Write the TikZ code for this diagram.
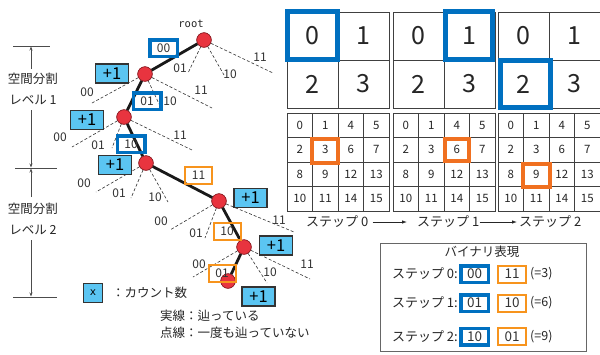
\documentclass[tikz,border=0pt]{standalone}
\usepackage{fontspec}
\setmainfont{Noto Sans CJK JP}
\newfontfamily\monof{DejaVu Sans Mono}
\usetikzlibrary{arrows.meta}
\definecolor{bblue}{RGB}{0,112,192}
\definecolor{torange}{RGB}{247,148,29}
\definecolor{gorange}{RGB}{240,112,32}
\definecolor{lblue}{RGB}{91,197,242}
\definecolor{nred}{RGB}{232,52,63}
\newcommand\myfs[1]{\fontsize{#1}{#1}\selectfont}
\tikzset{
  dot/.style={circle, fill=nred, draw=nred!60!black, line width=0.6pt, minimum size=14.5pt, inner sep=0pt},
  walked/.style={line width=2.8pt, black!90},
  unwalked/.style={dash pattern=on 3pt off 2pt, line width=0.6pt, black!80},
  lbl/.style={font=\myfs{12}, text=black!80, inner sep=0pt},
  bluebox/.style={draw=bblue, line width=3.5pt, minimum width=27.5pt, minimum height=16.5pt, inner sep=0pt, font=\myfs{12}, text=black!80},
  orbox/.style={draw=torange, line width=2pt, minimum width=27pt, minimum height=17pt, inner sep=0pt, font=\myfs{12}, text=black!80},
  cntbox/.style={draw=black!80, fill=lblue, line width=1.2pt, minimum width=33pt, minimum height=19pt, inner sep=0pt, font=\myfs{16.5}},
  bigcell/.style={draw=black!75, line width=0.8pt, minimum width=51pt, minimum height=48pt, inner sep=0pt, font=\myfs{25}, text=black!85},
  smallcell/.style={draw=black!75, line width=0.8pt, minimum width=25.5pt, minimum height=24.5pt, inner sep=0pt, font=\myfs{11.5}, text=black!85},
  hlblue/.style={draw=bblue, line width=5pt},
  hlorange/.style={draw=gorange, line width=4pt},
  jp/.style={font=\myfs{12.5}, text=black!85, inner sep=0pt},
  annline/.style={line width=0.8pt, black!70},
  annarrow/.style={line width=0.8pt, black!70, -{Stealth[length=4pt,width=3pt]}},
  steparrow/.style={line width=0.8pt, black!85, -{Latex[length=5pt,width=3.5pt]}},
}
\begin{document}
\begin{tikzpicture}[x=1pt,y=-1pt]
\useasboundingbox (0,0) rectangle (600,354);
\fill[white] (0,0) rectangle (600,354);

% ---------------- left annotation ----------------
\draw[annline] (13,46) -- (50,46);
\draw[annline] (15,168) -- (57,168);
\draw[annline] (13,297) -- (57,297);
\node[jp] (a1) at (33,79) {空間分割};
\node[jp] (b1) at (33,100) {レベル 1};
\node[jp] (a2) at (33,209) {空間分割};
\node[jp] (b2) at (33,230) {レベル 2};
\coordinate (t1) at (31,46.5);
\coordinate (u1) at (31,167.5);
\coordinate (t2) at (31,168.5);
\coordinate (u2) at (31,296.5);
\draw[annarrow] (31,69) -- (t1);
\draw[annarrow] (31,110) -- (u1);
\draw[annarrow] (31,197) -- (t2);
\draw[annarrow] (31,240) -- (u2);

% ---------------- tree ----------------
\node[font=\monof\myfs{10.5}, text=black!85, inner sep=0pt] (rootl) at (191,24) {root};
\node[dot] (r) at (204,40) {};
\node[dot] (n1) at (145,74) {};
\node[dot] (n2) at (124,117) {};
\node[dot] (n3) at (146,163) {};
\node[dot] (n4) at (219,201) {};
\node[dot] (n5) at (244,247) {};
\node[dot] (n6) at (228,281) {};

% dashed (never walked)
\coordinate (r01) at (188,73); \coordinate (r10) at (224,75); \coordinate (r11) at (273,73);
\draw[unwalked] (r) -- (r01); \draw[unwalked] (r) -- (r10); \draw[unwalked] (r) -- (r11);
\node[lbl] (lr01) at (180,68) {01}; \node[lbl] (lr10) at (230,74) {10}; \node[lbl] (lr11) at (260,57) {11};

\coordinate (a00) at (92,103); \coordinate (a10) at (161,108); \coordinate (a11) at (212,108);
\draw[unwalked] (n1) -- (a00); \draw[unwalked] (n1) -- (a10); \draw[unwalked] (n1) -- (a11);
\node[lbl] (la00) at (87,92) {00}; \node[lbl] (la10) at (170,101) {10}; \node[lbl] (la11) at (201,90) {11};

\coordinate (b00) at (72,147); \coordinate (b01) at (112,148); \coordinate (b11) at (192,150);
\draw[unwalked] (n2) -- (b00); \draw[unwalked] (n2) -- (b01); \draw[unwalked] (n2) -- (b11);
\node[lbl] (lb00) at (60,137) {00}; \node[lbl] (lb01) at (98,145) {01}; \node[lbl] (lb11) at (180,135) {11};

\coordinate (c00) at (96,192); \coordinate (c01) at (131,198); \coordinate (c10) at (168,202);
\draw[unwalked] (n3) -- (c00); \draw[unwalked] (n3) -- (c01); \draw[unwalked] (n3) -- (c10);
\node[lbl] (lc00) at (84,183) {00}; \node[lbl] (lc01) at (119,193) {01}; \node[lbl] (lc10) at (155,197) {10};

\coordinate (d00) at (170,230); \coordinate (d01) at (205,238); \coordinate (d11) at (294,232);
\draw[unwalked] (n4) -- (d00); \draw[unwalked] (n4) -- (d01); \draw[unwalked] (n4) -- (d11);
\node[lbl] (ld00) at (161,221) {00}; \node[lbl] (ld01) at (196,233) {01}; \node[lbl] (ld11) at (279,220) {11};

\coordinate (e00) at (193,277); \coordinate (e10) at (267,283); \coordinate (e11) at (310,279);
\draw[unwalked] (n5) -- (e00); \draw[unwalked] (n5) -- (e10); \draw[unwalked] (n5) -- (e11);
\node[lbl] (le00) at (199,264) {00}; \node[lbl] (le10) at (270,272) {10}; \node[lbl] (le11) at (307,264) {11};

% walked path
\draw[walked] (r) -- (n1);
\draw[walked] (n1) -- (n2);
\draw[walked] (n2) -- (n3);
\draw[walked] (n3) -- (n4);
\draw[walked] (n4) -- (n5);
\draw[walked] (n5) -- (n6);
\foreach \n in {r,n1,n2,n3,n4,n5,n6} \node[dot] at (\n) {};

% edge label boxes
\node[bluebox] (bx1) at (163.5,48) {00};
\node[bluebox] (bx2) at (147,101) {01};
\node[bluebox] (bx3) at (131,144) {10};
\node[orbox] (ox1) at (198.5,175.5) {11};
\node[orbox] (ox2) at (227,231) {10};
\node[orbox] (ox3) at (222,273) {01};

% count boxes
\node[cntbox] (c1) at (112,73.5) {+1};
\node[cntbox] (c2) at (87,120) {+1};
\node[cntbox] (c3) at (115,165) {+1};
\node[cntbox] (c4) at (250.5,198) {+1};
\node[cntbox] (c5) at (276,245.5) {+1};
\node[cntbox] (c6) at (258.5,296.5) {+1};

% legend
\node[draw=black!80, fill=lblue, line width=1.2pt, minimum width=19pt, minimum height=19pt, inner sep=0pt, font=\monof\myfs{10.5}] (lx) at (93,293) {x};
\node[jp, anchor=west, font=\myfs{12.5}] (lxt) at (112,293) {：カウント数};
\node[jp, anchor=west, font=\myfs{12.5}] (lg1) at (160,316) {実線：辿っている};
\node[jp, anchor=west, font=\myfs{12.5}] (lg2) at (160,333) {点線：一度も辿っていない};

% ---------------- grids ----------------
\foreach \g/\xo in {1/287,2/393,3/498} {
  \foreach \r in {0,1} \foreach \c in {0,1} {
    \pgfmathtruncatemacro\num{2*\r+\c}
    \node[bigcell] (T\g\r\c) at (\xo+25.5+51*\c, 36+48*\r) {\num};
  }
  \foreach \r/\c/\num in {0/0/0,0/1/1,0/2/4,0/3/5,1/0/2,1/1/3,1/2/6,1/3/7,2/0/8,2/1/9,2/2/12,2/3/13,3/0/10,3/1/11,3/2/14,3/3/15}
    \node[smallcell] (S\g\r\c) at (\xo+12.75+25.5*\c, 125.25+24.5*\r) {\num};
}
\draw[hlblue] (287.5,11.5) rectangle (337.5,59.5);
\draw[hlblue] (445.5,11.5) rectangle (492.5,59.5);
\draw[hlblue] (500.5,60.5) rectangle (550.5,107.5);
\draw[hlorange] (312,139) rectangle (338,163);
\draw[hlorange] (445,139) rectangle (469,161);
\draw[hlorange] (523,164) rectangle (550,187);

% step labels
\node[jp, anchor=west, font=\myfs{13}] (st0) at (306,222) {ステップ 0};
\node[jp, anchor=west, font=\myfs{13}] (st1) at (417,222) {ステップ 1};
\node[jp, anchor=west, font=\myfs{13}] (st2) at (519,222) {ステップ 2};
\draw[steparrow] ([xshift=4pt]st0.east) -- ([xshift=-10pt]st1.west);
\draw[steparrow] (st1.east) -- ([xshift=-2pt]st2.west);

% ---------------- binary table ----------------
\node[draw=black!60, line width=1.2pt, minimum width=206pt, minimum height=108pt, inner sep=0pt] (tbl) at (483.5,297.5) {};
\node[jp] (tt) at (482,252) {バイナリ表現};
\foreach \i/\y/\bv/\ov/\dv in {0/274/00/11/3, 1/303/01/10/6, 2/336.5/10/01/9} {
  \node[jp, anchor=east, font=\myfs{13}] (rl\i) at (458,\y) {ステップ \i:};
  \node[bluebox, font=\myfs{13.5}] (rb\i) at (474.5,\y) {\bv};
  \node[orbox, font=\myfs{13.5}, minimum width=28pt] (ro\i) at (512,\y) {\ov};
  \node[jp, anchor=west, font=\myfs{12.5}] (rd\i) at (530,\y) {(=\dv)};
}
\end{tikzpicture}
\end{document}
